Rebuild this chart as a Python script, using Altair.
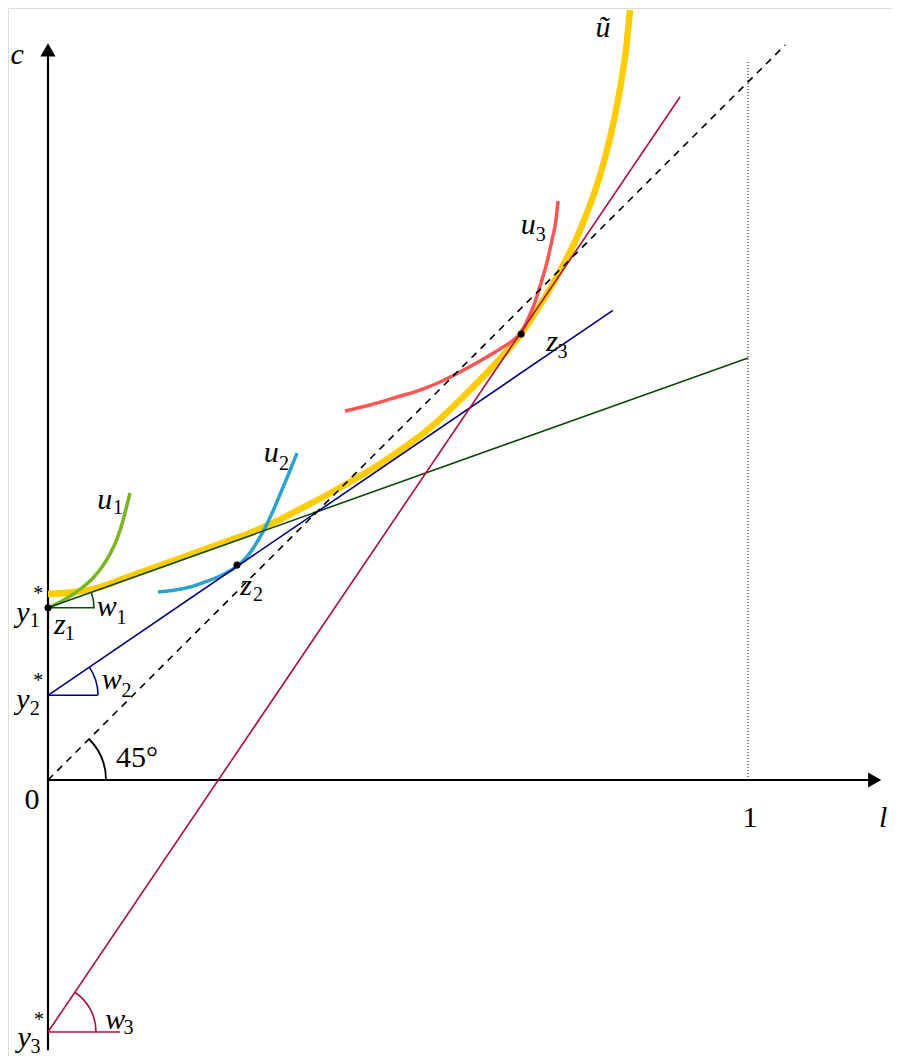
import altair as alt
import pandas as pd

# ---------------- data (l = labour, c = consumption) ----------------
# envelope curve u~ (thick yellow)
ut_l = [0.0, 0.0386, 0.0743, 0.1100, 0.1457, 0.1814, 0.2171, 0.2529, 0.2886, 0.3243,
        0.3600, 0.3957, 0.4314, 0.4743, 0.5100, 0.5457, 0.5929, 0.6414, 0.6757, 0.6957,
        0.7143, 0.7329, 0.7500, 0.7671, 0.7814, 0.7957, 0.8086, 0.8186, 0.8271, 0.8314]
ut_c = [0.2657, 0.2686, 0.2757, 0.2886, 0.3014, 0.3143, 0.3271, 0.3400, 0.3529, 0.3686,
        0.3871, 0.4057, 0.4257, 0.4514, 0.4757, 0.5029, 0.5471, 0.5971, 0.6371, 0.6671,
        0.6971, 0.7300, 0.7629, 0.8029, 0.8414, 0.8886, 0.9429, 0.9957, 1.0557, 1.1000]
# indifference curves
u1_l = [0.0, 0.0171, 0.0343, 0.0500, 0.0643, 0.0771, 0.0886, 0.0986, 0.1057, 0.1114, 0.1171]
u1_c = [0.2457, 0.2543, 0.2643, 0.2757, 0.2886, 0.3043, 0.3229, 0.3443, 0.3657, 0.3871, 0.4100]
u2_l = [0.1571, 0.1814, 0.2029, 0.2243, 0.2457, 0.2700, 0.2814, 0.2914, 0.3014, 0.3114,
        0.3214, 0.3329, 0.3443, 0.3557]
u2_c = [0.2686, 0.2714, 0.2757, 0.2829, 0.2914, 0.3057, 0.3157, 0.3286, 0.3443, 0.3629,
        0.3843, 0.4114, 0.4386, 0.4671]
u3_l = [0.4243, 0.4600, 0.4986, 0.5314, 0.5600, 0.5886, 0.6171, 0.6457, 0.6629, 0.6757,
        0.6857, 0.6957, 0.7043, 0.7129, 0.7200, 0.7257, 0.7286]
u3_c = [0.5271, 0.5357, 0.5471, 0.5571, 0.5686, 0.5829, 0.5986, 0.6157, 0.6271, 0.6386,
        0.6586, 0.6829, 0.7100, 0.7400, 0.7714, 0.8000, 0.8271]
# budget lines (start, end)
green_line = [(0.0, 0.246), (1.0, 0.603)]
navy_line = [(0.0, 0.121), (0.807, 0.671)]
red_line = [(0.0, -0.360), (0.903, 0.976)]
diag_line = [(0.0, 0.0), (1.053, 1.050)]
one_line = [(1.0, 0.0), (1.0, 1.026)]
# tangency points
pts_l = [0.0, 0.270, 0.676]
pts_c = [0.246, 0.307, 0.637]
cross_pt = (0.381, 0.381)
# angle markers: vertex, horizontal end, slope angle (rad), radius px
ang = [
    dict(l=0.0, c=0.246, l2=0.067, col="#0b4a0b", a=0.343, r=46),
    dict(l=0.0, c=0.121, l2=0.071, col="#000080", a=0.598, r=50),
    dict(l=0.0, c=-0.360, l2=0.103, col="#a8103a", a=0.976, r=48),
]

# ---------------- scales ----------------
L0, L1 = -0.05714, 1.2057
C0, C1 = -0.39429, 1.10286
XS = alt.Scale(domain=[L0, L1], nice=False, zero=False)
YS = alt.Scale(domain=[C0, C1], nice=False, zero=False)
FONT = "Liberation Serif, Times New Roman, serif"


def xy():
    return dict(x=alt.X("l:Q", scale=XS, axis=None), y=alt.Y("c:Q", scale=YS, axis=None))


def curve(ls, cs, color, w):
    df = pd.DataFrame({"l": ls, "c": cs})
    return alt.Chart(df).mark_line(color=color, strokeWidth=w, interpolate="monotone",
                                   strokeCap="butt").encode(**xy())


def rule(seg, color, w, dash=None):
    df = pd.DataFrame({"l": [seg[0][0]], "c": [seg[0][1]], "l2": [seg[1][0]], "c2": [seg[1][1]]})
    kw = dict(color=color, strokeWidth=w)
    if dash:
        kw["strokeDash"] = dash
    return alt.Chart(df).mark_rule(**kw).encode(**xy(), x2="l2:Q", y2="c2:Q")


def arc(l, c, r, a, color, w=1.6):
    df = pd.DataFrame({"l": [l], "c": [c]})
    return alt.Chart(df).mark_arc(filled=False, stroke=color, strokeWidth=w).encode(
        **xy(),
        theta=alt.value(1.5708 - a), theta2=alt.value(1.5708),
        radius=alt.value(r), radius2=alt.value(r))


def text(rows, size, style="italic"):
    df = pd.DataFrame(rows, columns=["t", "l", "c"])
    return alt.Chart(df).mark_text(font=FONT, fontSize=size, fontStyle=style,
                                   align="center", baseline="middle", color="black").encode(
        **xy(), text="t:N")


layers = []
# axes
layers.append(rule([(0.0, -0.386), (0.0, 1.035)], "black", 2.2))
layers.append(rule([(0.0, 0.0), (1.175, 0.0)], "black", 2.2))
layers.append(alt.Chart(pd.DataFrame({"l": [0.0], "c": [1.043]})).mark_point(
    shape="triangle-up", filled=True, color="black", opacity=1, size=230).encode(**xy()))
layers.append(alt.Chart(pd.DataFrame({"l": [1.181], "c": [0.0]})).mark_point(
    shape="triangle-right", filled=True, color="black", opacity=1, size=230).encode(**xy()))
# dotted l = 1
layers.append(rule(one_line, "black", 1, [1, 2]))
# envelope
layers.append(curve(ut_l, ut_c, "#ffcc00", 6.5))
# indifference curves
layers.append(curve(u1_l, u1_c, "#7ab51d", 3.5))
layers.append(curve(u2_l, u2_c, "#2aa4cc", 3.5))
layers.append(curve(u3_l, u3_c, "#ff5555", 3.5))
# budget lines
layers.append(rule(green_line, "#0b4a0b", 1.6))
layers.append(rule(navy_line, "#000080", 1.6))
layers.append(rule(red_line, "#a8103a", 1.6))
layers.append(rule(diag_line, "black", 1.6, [7, 6]))
# angle markers
for g in ang:
    layers.append(rule([(g["l"], g["c"]), (g["l2"], g["c"])], g["col"], 1.6))
    layers.append(arc(g["l"], g["c"], g["r"], g["a"], g["col"]))
layers.append(arc(0.0, 0.0, 58, 0.785, "black", 1.8))
# points
layers.append(alt.Chart(pd.DataFrame({"l": pts_l, "c": pts_c})).mark_point(
    filled=True, color="black", opacity=1, size=50).encode(**xy()))
layers.append(alt.Chart(pd.DataFrame({"l": [cross_pt[0]], "c": [cross_pt[1]]})).mark_point(
    filled=True, color="black", opacity=1, size=12).encode(**xy()))

# labels
main_rows = [
    ("c", -0.044, 1.036), ("ũ", 0.793, 1.074), ("l", 1.193, -0.054),
    ("y", -0.036, 0.239), ("y", -0.036, 0.114), ("y", -0.034, -0.369),
    ("z", 0.017, 0.221), ("z", 0.283, 0.277), ("z", 0.720, 0.626),
    ("w", 0.084, 0.247), ("w", 0.091, 0.143), ("w", 0.096, -0.343),
    ("u", 0.081, 0.400), ("u", 0.319, 0.467), ("u", 0.686, 0.793),
]
sub_rows = [
    ("1", -0.019, 0.227), ("2", -0.019, 0.102), ("3", -0.018, -0.381),
    ("1", 0.031, 0.209), ("2", 0.300, 0.264), ("3", 0.735, 0.612),
    ("1", 0.105, 0.232), ("2", 0.112, 0.127), ("3", 0.115, -0.355),
    ("1", 0.100, 0.388), ("2", 0.337, 0.452), ("3", 0.704, 0.778),
]
star_rows = [("*", -0.014, 0.265), ("*", -0.014, 0.141), ("*", -0.013, -0.343)]
num_rows = [("0", -0.023, -0.029), ("1", 1.003, -0.054), ("45°", 0.127, 0.031)]

layers.append(text(main_rows, 30))
layers.append(text(sub_rows, 20, "normal"))
layers.append(text(star_rows, 20, "normal"))
layers.append(text(num_rows, 30, "normal"))

chart = alt.layer(*layers).properties(
    width=884, height=1048, padding=0, autosize=alt.AutoSizeParams(type="none")
).configure_view(stroke=None).configure(background="white")

chart.save("out.html", embed_options={"renderer": "svg", "actions": False})
